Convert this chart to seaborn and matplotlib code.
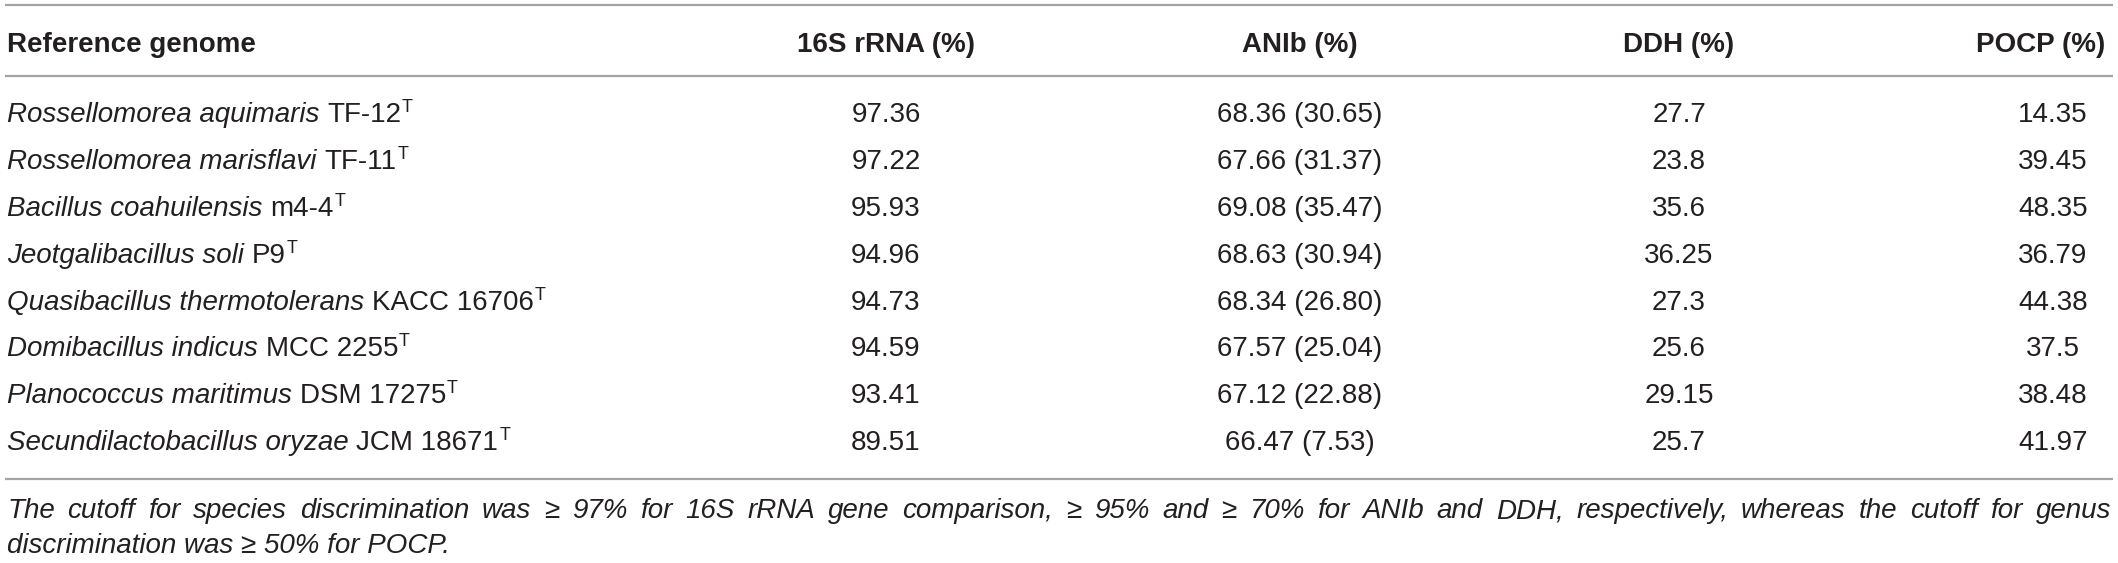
import numpy as np
import pandas as pd
import matplotlib
matplotlib.use("Agg")
import matplotlib.pyplot as plt
import seaborn as sns

# table content
species = ["Rossellomorea aquimaris", "Rossellomorea marisflavi", "Bacillus coahuilensis",
           "Jeotgalibacillus soli", "Quasibacillus thermotolerans", "Domibacillus indicus",
           "Planococcus maritimus", "Secundilactobacillus oryzae"]
strains = ["TF-12", "TF-11", "m4-4", "P9", "KACC 16706", "MCC 2255", "DSM 17275", "JCM 18671"]
rrna_16s = ["97.36", "97.22", "95.93", "94.96", "94.73", "94.59", "93.41", "89.51"]
anib = ["68.36", "67.66", "69.08", "68.63", "68.34", "67.57", "67.12", "66.47"]
anib_paren = ["30.65", "31.37", "35.47", "30.94", "26.80", "25.04", "22.88", "7.53"]
ddh = ["27.7", "23.8", "35.6", "36.25", "27.3", "25.6", "29.15", "25.7"]
pocp = ["14.35", "39.45", "48.35", "36.79", "44.38", "37.5", "38.48", "41.97"]
headers = ["Reference genome", "16S rRNA (%)", "ANIb (%)", "DDH (%)", "POCP (%)"]
footnote_1 = ("The cutoff for species discrimination was \u2265 97% for 16S rRNA gene comparison, "
              "\u2265 95% and \u2265 70% for ANIb and DDH, respectively, whereas the cutoff for genus")
footnote_2 = "discrimination was \u2265 50% for POCP."

df = pd.DataFrame({"species": species, "strain": strains, "rrna": rrna_16s,
                   "anib": [f"{a} ({b})" for a, b in zip(anib, anib_paren)],
                   "ddh": ddh, "pocp": pocp})

sns.set_theme(style="white")
plt.rcParams['font.family'] = ['Liberation Sans', 'DejaVu Sans']

W, H = 2118, 563
fig = plt.figure(figsize=(W / 100, H / 100), dpi=100)
ax = fig.add_axes([0, 0, 1, 1])
ax.set_xlim(0, W)
ax.set_ylim(H, 0)
ax.axis("off")
renderer = fig.canvas.get_renderer()

txt_color = "#231f20"
line_color = "#a3a3a3"
fs = 20
left = 7
right = 2111
col_x = [886, 1300, 1679]
pocp_head_x, pocp_val_x = 2041, 2053
head_base = 52
row_base0, row_step = 122, 46.9


def width_of(s, **kw):
    t = ax.text(0, 0, s, fontsize=fs, **kw)
    w = t.get_window_extent(renderer).width
    t.remove()
    return w


space_w = width_of("a a") - width_of("aa")


def put(x, y, s, **kw):
    t = ax.text(x, y, s, fontsize=kw.pop("size", fs), color=txt_color, va="baseline", **kw)
    return t.get_window_extent(renderer).width


# rules
for y in [5, 76, 479]:
    ax.plot([left - 2, right + 2], [y, y], color=line_color, lw=1.6, solid_capstyle="butt")

# header
put(left, head_base, headers[0], fontweight="bold")
for x, h in zip(col_x, headers[1:4]):
    put(x, head_base, h, fontweight="bold", ha="center")
put(pocp_head_x, head_base, headers[4], fontweight="bold", ha="center")

# body rows
for i, r in df.iterrows():
    yb = row_base0 + i * row_step
    x = left
    x += put(x, yb, r["species"], fontstyle="italic") + space_w
    x += put(x, yb, r["strain"]) + 1
    put(x, yb - 10, "T", size=13)
    put(col_x[0], yb, r["rrna"], ha="center")
    put(col_x[1], yb, r["anib"], ha="center")
    put(col_x[2], yb, r["ddh"], ha="center")
    put(pocp_val_x, yb, r["pocp"], ha="center")

# footnote, first line justified
words = footnote_1.split(" ")
widths = [width_of(w, fontstyle="italic") for w in words]
gap = (right - left - sum(widths)) / (len(words) - 1)
x = left
for w, wd in zip(words, widths):
    put(x, 518, w, fontstyle="italic")
    x += wd + gap
put(left, 553, footnote_2, fontstyle="italic")

fig.savefig("out.png", dpi=100, facecolor="white")
